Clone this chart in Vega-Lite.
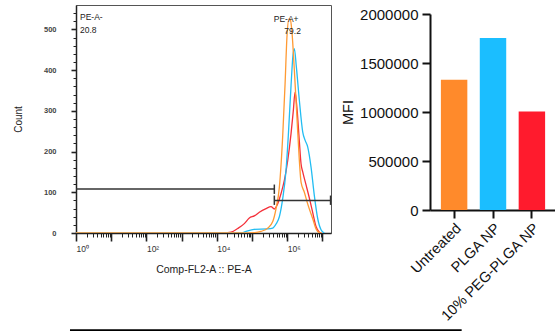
{
  "$schema": "https://vega.github.io/schema/vega-lite/v6.json",
  "background": "white",
  "padding": {"left": 12, "top": 4, "right": 0, "bottom": 0},
  "config": {"font": "Liberation Sans", "view": {"stroke": null}},
  "bounds": "flush",
  "spacing": 99,
  "datasets": {
    "curves": [
      {"sample": "10% PEG-PLGA NP", "x": 1, "y": 0},
      {"sample": "10% PEG-PLGA NP", "x": 16330, "y": 0},
      {"sample": "10% PEG-PLGA NP", "x": 25300, "y": 2},
      {"sample": "10% PEG-PLGA NP", "x": 39260, "y": 11},
      {"sample": "10% PEG-PLGA NP", "x": 60420, "y": 23},
      {"sample": "10% PEG-PLGA NP", "x": 83800, "y": 37},
      {"sample": "10% PEG-PLGA NP", "x": 116200, "y": 42},
      {"sample": "10% PEG-PLGA NP", "x": 161100, "y": 51},
      {"sample": "10% PEG-PLGA NP", "x": 250000, "y": 60},
      {"sample": "10% PEG-PLGA NP", "x": 346700, "y": 65},
      {"sample": "10% PEG-PLGA NP", "x": 430400, "y": 59},
      {"sample": "10% PEG-PLGA NP", "x": 512900, "y": 68},
      {"sample": "10% PEG-PLGA NP", "x": 666800, "y": 97},
      {"sample": "10% PEG-PLGA NP", "x": 827600, "y": 129},
      {"sample": "10% PEG-PLGA NP", "x": 1033000, "y": 178},
      {"sample": "10% PEG-PLGA NP", "x": 1282000, "y": 244},
      {"sample": "10% PEG-PLGA NP", "x": 1490000, "y": 301},
      {"sample": "10% PEG-PLGA NP", "x": 1667000, "y": 346},
      {"sample": "10% PEG-PLGA NP", "x": 1897000, "y": 305},
      {"sample": "10% PEG-PLGA NP", "x": 2208000, "y": 225},
      {"sample": "10% PEG-PLGA NP", "x": 2467000, "y": 170},
      {"sample": "10% PEG-PLGA NP", "x": 2757000, "y": 150},
      {"sample": "10% PEG-PLGA NP", "x": 3422000, "y": 118},
      {"sample": "10% PEG-PLGA NP", "x": 4244000, "y": 86},
      {"sample": "10% PEG-PLGA NP", "x": 5299000, "y": 50},
      {"sample": "10% PEG-PLGA NP", "x": 6579000, "y": 16},
      {"sample": "10% PEG-PLGA NP", "x": 8168000, "y": 2},
      {"sample": "10% PEG-PLGA NP", "x": 9126000, "y": 0},
      {"sample": "PLGA NP", "x": 1, "y": 0},
      {"sample": "PLGA NP", "x": 48700, "y": 0},
      {"sample": "PLGA NP", "x": 67600, "y": 4},
      {"sample": "PLGA NP", "x": 114000, "y": 9},
      {"sample": "PLGA NP", "x": 279300, "y": 10},
      {"sample": "PLGA NP", "x": 387400, "y": 12},
      {"sample": "PLGA NP", "x": 480800, "y": 22},
      {"sample": "PLGA NP", "x": 597000, "y": 40},
      {"sample": "PLGA NP", "x": 745000, "y": 85},
      {"sample": "PLGA NP", "x": 925600, "y": 155},
      {"sample": "PLGA NP", "x": 1074000, "y": 240},
      {"sample": "PLGA NP", "x": 1282000, "y": 362},
      {"sample": "PLGA NP", "x": 1462000, "y": 438},
      {"sample": "PLGA NP", "x": 1592000, "y": 453},
      {"sample": "PLGA NP", "x": 1815000, "y": 408},
      {"sample": "PLGA NP", "x": 2208000, "y": 326},
      {"sample": "PLGA NP", "x": 2757000, "y": 248},
      {"sample": "PLGA NP", "x": 3206000, "y": 228},
      {"sample": "PLGA NP", "x": 3823000, "y": 211},
      {"sample": "PLGA NP", "x": 4742000, "y": 162},
      {"sample": "PLGA NP", "x": 5888000, "y": 92},
      {"sample": "PLGA NP", "x": 7351000, "y": 35},
      {"sample": "PLGA NP", "x": 9126000, "y": 8},
      {"sample": "PLGA NP", "x": 11320000, "y": 0},
      {"sample": "Untreated", "x": 1, "y": 0},
      {"sample": "Untreated", "x": 48700, "y": 0},
      {"sample": "Untreated", "x": 120000, "y": 1},
      {"sample": "Untreated", "x": 180200, "y": 4},
      {"sample": "Untreated", "x": 279300, "y": 12},
      {"sample": "Untreated", "x": 387400, "y": 28},
      {"sample": "Untreated", "x": 480800, "y": 60},
      {"sample": "Untreated", "x": 597000, "y": 112},
      {"sample": "Untreated", "x": 745000, "y": 240},
      {"sample": "Untreated", "x": 866700, "y": 365},
      {"sample": "Untreated", "x": 986600, "y": 485},
      {"sample": "Untreated", "x": 1125000, "y": 526},
      {"sample": "Untreated", "x": 1225000, "y": 524},
      {"sample": "Untreated", "x": 1342000, "y": 500},
      {"sample": "Untreated", "x": 1592000, "y": 400},
      {"sample": "Untreated", "x": 1897000, "y": 280},
      {"sample": "Untreated", "x": 2208000, "y": 178},
      {"sample": "Untreated", "x": 2467000, "y": 125},
      {"sample": "Untreated", "x": 3063000, "y": 100},
      {"sample": "Untreated", "x": 3823000, "y": 71},
      {"sample": "Untreated", "x": 5299000, "y": 35},
      {"sample": "Untreated", "x": 6579000, "y": 10},
      {"sample": "Untreated", "x": 8168000, "y": 1},
      {"sample": "Untreated", "x": 9500000, "y": 0}
    ],
    "gates": [
      {"x": 1, "x2": 430000, "y": 108, "y2": 108},
      {"x": 430000, "x2": 430000, "y": 96, "y2": 119},
      {"x": 430000, "x2": 17000000, "y": 80, "y2": 80},
      {"x": 430000, "x2": 430000, "y": 69, "y2": 92},
      {"x": 17000000, "x2": 17000000, "y": 69, "y2": 92}
    ],
    "gateLabels": [
      {"text": "PE-A-", "x": 1.3, "y": 523},
      {"text": "20.8", "x": 1.3, "y": 491},
      {"text": "PE-A+", "x": 413000, "y": 519},
      {"text": "79.2", "x": 827000, "y": 490}
    ],
    "tableEdge": [
      {"x": 0.675, "x2": 90000000000, "y": -239, "y2": -239}
    ],
    "mfi": [
      {"group": "Untreated", "mfi": 1330000},
      {"group": "PLGA NP", "mfi": 1755000},
      {"group": "10% PEG-PLGA NP", "mfi": 1005000}
    ]
  },
  "hconcat": [
    {
      "width": 255,
      "height": 228,
      "view": {"stroke": "#555", "strokeWidth": 1},
      "encoding": {
        "x": {
          "field": "x", "type": "quantitative",
          "scale": {"type": "log", "domain": [1, 17500000], "nice": false},
          "axis": {
            "values": [1,2,3,4,5,6,7,8,9,10,20,30,40,50,60,70,80,90,100,200,300,400,500,600,700,800,900,1000,2000,3000,4000,5000,6000,7000,8000,9000,10000,20000,30000,40000,50000,60000,70000,80000,90000,100000,200000,300000,400000,500000,600000,700000,800000,900000,1000000,2000000,3000000,4000000,5000000,6000000,7000000,8000000,9000000,10000000],
            "labelExpr": "datum.value == 1 ? '10⁰' : datum.value == 100 ? '10²' : datum.value == 10000 ? '10⁴' : datum.value == 1000000 ? '10⁶' : ''",
            "tickSize": {"condition": {"test": "indexof([1,10,100,1000,10000,100000,1000000,10000000], datum.value) >= 0", "value": 8}, "value": 4},
            "tickWidth": {"condition": {"test": "indexof([1,10,100,1000,10000,100000,1000000,10000000], datum.value) >= 0", "value": 1.6}, "value": 1},
            "labelOverlap": false, "labelFlush": false, "labelBound": false,
            "labelAlign": "left", "labelPadding": 3, "labelFontSize": 8.5, "labelColor": "#333",
            "domainColor": "#222", "domainWidth": 1.5, "tickColor": "#222",
            "grid": false,
            "title": "Comp-FL2-A :: PE-A", "titleFontSize": 10.5, "titleFontWeight": "normal", "titleColor": "#222", "titlePadding": 12
          }
        },
        "y": {
          "field": "y", "type": "quantitative",
          "scale": {"domain": [0, 560], "nice": false},
          "axis": {
            "values": [0,20,40,60,80,100,120,140,160,180,200,220,240,260,280,300,320,340,360,380,400,420,440,460,480,500,520,540],
            "labelExpr": "datum.value % 100 === 0 ? datum.label : ''",
            "tickSize": {"condition": {"test": "datum.value % 100 === 0", "value": 5}, "value": 3},
            "tickWidth": {"condition": {"test": "datum.value % 100 === 0", "value": 1.6}, "value": 1},
            "labelPadding": 15, "labelFontSize": 7.5, "labelColor": "#444", "labelFontWeight": "bold",
            "labelOverlap": false,
            "domainColor": "#222", "domainWidth": 1.5, "tickColor": "#222",
            "grid": false,
            "title": "Count", "titleFontSize": 10, "titleFontWeight": "normal", "titleColor": "#222", "titlePadding": 20
          }
        }
      },
      "layer": [
        {
          "data": {"name": "curves"},
          "transform": [{"filter": "datum.sample == '10% PEG-PLGA NP'"}],
          "mark": {"type": "line", "interpolate": "monotone", "strokeWidth": 1.3, "color": "#F4303A", "clip": true}
        },
        {
          "data": {"name": "curves"},
          "transform": [{"filter": "datum.sample == 'PLGA NP'"}],
          "mark": {"type": "line", "interpolate": "monotone", "strokeWidth": 1.3, "color": "#22BDF2", "clip": true}
        },
        {
          "data": {"name": "curves"},
          "transform": [{"filter": "datum.sample == 'Untreated'"}],
          "mark": {"type": "line", "interpolate": "monotone", "strokeWidth": 1.3, "color": "#FF9A33", "clip": true}
        },
        {
          "data": {"name": "gates"},
          "mark": {"type": "rule", "color": "#333", "strokeWidth": 1.5},
          "encoding": {"x2": {"field": "x2"}, "y2": {"field": "y2"}}
        },
        {
          "data": {"name": "gateLabels"},
          "mark": {"type": "text", "align": "left", "baseline": "alphabetic", "fontSize": 8.5, "color": "#222"},
          "encoding": {"text": {"field": "text"}}
        },
        {
          "data": {"name": "tableEdge"},
          "mark": {"type": "rule", "color": "#000", "strokeWidth": 2},
          "encoding": {"x2": {"field": "x2"}, "y2": {"field": "y2"}}
        }
      ]
    },
    {
      "width": 126,
      "height": 228,
      "data": {"name": "mfi"},
      "mark": {"type": "bar"},
      "encoding": {
        "x": {
          "field": "group", "type": "nominal", "sort": null,
          "scale": {"paddingInner": 0.32, "paddingOuter": 0.28},
          "axis": {
            "title": null, "labelAngle": -45, "labelFontSize": 14.5, "labelColor": "#111",
            "domainColor": "#111", "domainWidth": 2, "tickColor": "#111", "tickWidth": 2, "tickSize": 8,
            "offset": -23, "labelPadding": 3
          }
        },
        "y": {
          "field": "mfi", "type": "quantitative",
          "scale": {"domain": [0, 2000000], "range": [205, 9], "nice": false},
          "axis": {
            "values": [0, 500000, 1000000, 1500000, 2000000], "format": "d",
            "labelFontSize": 15, "labelColor": "#111",
            "domainColor": "#111", "domainWidth": 2, "tickColor": "#111", "tickWidth": 2, "tickSize": 8,
            "labelPadding": 4, "grid": false,
            "title": "MFI", "titleFontSize": 14.5, "titleFontWeight": "normal", "titleColor": "#111", "titlePadding": 4
          }
        },
        "color": {
          "field": "group", "type": "nominal",
          "scale": {"domain": ["Untreated", "PLGA NP", "10% PEG-PLGA NP"], "range": ["#FF8A2B", "#1BBEFF", "#FF1B2D"]},
          "legend": null
        }
      }
    }
  ]
}
